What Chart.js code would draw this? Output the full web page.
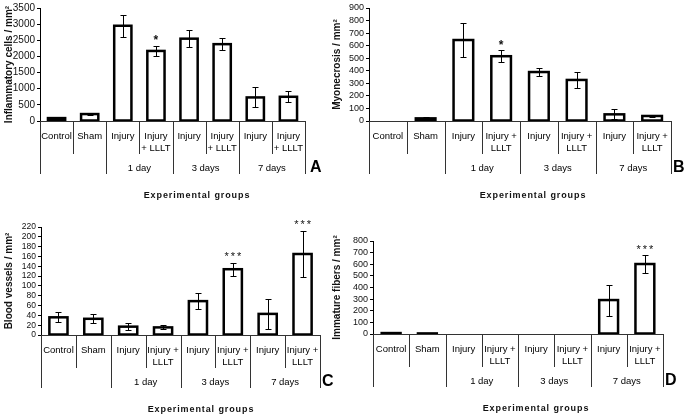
<!DOCTYPE html>
<html>
<head>
<meta charset="utf-8">
<script src="https://cdn.jsdelivr.net/npm/chart.js@4/dist/chart.umd.min.js"></script>
<style>
  html, body { margin: 0; padding: 0; background: #fff; }
  #wrap { position: relative; width: 685px; height: 417px; overflow: hidden; }
  .panel { position: absolute; }
</style>
</head>
<body>
<div id="wrap">
  <div class="panel" style="left:0;top:0;width:340px;height:205px"><canvas id="chartA"></canvas></div>
  <div class="panel" style="left:328px;top:0;width:357px;height:205px"><canvas id="chartB"></canvas></div>
  <div class="panel" style="left:0;top:205px;width:340px;height:212px"><canvas id="chartC"></canvas></div>
  <div class="panel" style="left:328px;top:205px;width:357px;height:212px"><canvas id="chartD"></canvas></div>
</div>
<script>
// category labels (one entry per bar, each a list of text lines)
const categoriesA = [['Control'], ['Sham'], ['Injury'], ['Injury', '+ LLLT'], ['Injury'], ['Injury', '+ LLLT'], ['Injury'], ['Injury', '+ LLLT']];
const categoriesBCD = [['Control'], ['Sham'], ['Injury'], ['Injury +', 'LLLT'], ['Injury'], ['Injury +', 'LLLT'], ['Injury'], ['Injury +', 'LLLT']];
const groupLabels = ['', '1 day', '3 days', '7 days'];

// A - inflammatory cells
const inflammatory = [90, 215, 2950, 2170, 2550, 2380, 730, 750];
const inflammatoryErr = [15, 35, 340, 165, 270, 190, 310, 170];
const inflammatoryStars = ['', '', '', '*', '', '', '', ''];

// B - myonecrosis
const myonecrosis = [0, 21, 645, 516, 390, 327, 53, 40];
const myonecrosisErr = [0, 13, 133, 49, 31, 66, 41, 8];
const myonecrosisStars = ['', '', '', '*', '', '', '', ''];

// C - blood vessels
const bloodVessels = [36, 33, 17, 15.5, 69, 134, 43, 165];
const bloodVesselsErr = [10, 9, 7, 4, 16, 13.5, 30, 47];
const bloodVesselsStars = ['', '', '', '', '', '***', '', '***'];

// D - immature fibers
const immatureFibers = [8, 5, 0, 0, 0, 0, 292, 602];
const immatureFibersErr = [0, 0, 0, 0, 0, 0, 133, 76];
const immatureFibersStars = ['', '', '', '', '', '', '', '***'];

const FONT = '"Liberation Sans", Arial, sans-serif';

const panelPlugin = {
  id: 'panel',
  afterDatasetsDraw(chart) {
    // Excel style outline: stroke centred on the bar edges
    const { ctx } = chart;
    const meta = chart.getDatasetMeta(0);
    ctx.save();
    ctx.strokeStyle = '#000';
    ctx.lineWidth = 2.5;
    meta.data.forEach((bar, i) => {
      if (!chart.data.datasets[0].data[i]) return;
      const p = bar.getProps(['x', 'y', 'base', 'width'], true);
      ctx.strokeRect(p.x - p.width / 2, p.y, p.width, p.base - p.y);
    });
    ctx.restore();
  },
  afterDraw(chart, args, opts) {
    const { ctx, chartArea: a } = chart;
    const y = chart.scales.y;
    const meta = chart.getDatasetMeta(0);
    const n = opts.cats.length;
    const w = (a.right - a.left) / n;
    ctx.save();

    // error bars
    ctx.strokeStyle = '#000';
    ctx.lineWidth = 1;
    opts.errs.forEach((e, i) => {
      if (!e) return;
      const v = opts.values[i];
      const cx = Math.round(meta.data[i].x) + 0.5;
      const top = Math.round(y.getPixelForValue(v + e)) + 0.5;
      const bot = Math.round(y.getPixelForValue(Math.max(0, v - e))) + 0.5;
      ctx.beginPath();
      ctx.moveTo(cx, top); ctx.lineTo(cx, bot);
      ctx.moveTo(cx - 3, top); ctx.lineTo(cx + 3, top);
      ctx.moveTo(cx - 3, bot); ctx.lineTo(cx + 3, bot);
      ctx.stroke();
    });

    // significance stars
    ctx.fillStyle = '#111';
    ctx.textAlign = 'center';
    ctx.textBaseline = 'alphabetic';
    opts.stars.forEach((s, i) => {
      if (!s) return;
      const v = opts.values[i] + opts.errs[i];
      const cx = meta.data[i].x;
      const top = y.getPixelForValue(v);
      if (s.length === 1) {
        ctx.font = 'bold 12px ' + FONT;
        ctx.letterSpacing = '0px';
        ctx.fillText(s, cx, top - 1.5);
      } else {
        ctx.font = '11px ' + FONT;
        ctx.letterSpacing = '2px';
        ctx.fillText(s, cx + 1, top - 2.5);
      }
    });
    ctx.letterSpacing = '0px';

    // category table
    ctx.strokeStyle = '#333';
    ctx.beginPath();
    ctx.moveTo(a.left, Math.round(a.bottom) + 0.5);
    ctx.lineTo(a.right, Math.round(a.bottom) + 0.5);
    for (let k = 0; k <= n; k++) {
      const lx = Math.round(a.left + k * w) + 0.5;
      ctx.moveTo(lx, a.bottom);
      ctx.lineTo(lx, a.bottom + (k % 2 === 0 ? 53 : 33));
    }
    ctx.stroke();

    ctx.font = '9.5px ' + FONT;
    ctx.fillStyle = '#000';
    ctx.textBaseline = 'middle';
    opts.cats.forEach((lines, i) => {
      const cx = a.left + (i + 0.5) * w;
      lines.forEach((t, j) => ctx.fillText(t, cx, a.bottom + 15 + 12.5 * j));
    });
    groupLabels.forEach((g, j) => {
      if (g) ctx.fillText(g, a.left + (2 * j + 1) * w, a.bottom + 47);
    });

    // panel letter
    ctx.font = 'bold 16px ' + FONT;
    ctx.textAlign = 'left';
    ctx.fillStyle = '#000';
    ctx.fillText(opts.letter, a.right + opts.letterDx, a.bottom + 47);

    // x axis title
    ctx.font = 'bold 9px ' + FONT;
    ctx.letterSpacing = '0.9px';
    ctx.textAlign = 'center';
    ctx.fillStyle = '#111';
    ctx.fillText('Experimental groups', opts.titleX, a.bottom + 75);
    ctx.restore();
  }
};

function makeChart(id, cats, values, errs, stars, yTitle, yMax, yStep, letter, box) {
  return new Chart(document.getElementById(id), {
    type: 'bar',
    data: {
      labels: cats.map(c => c.join(' ')),
      datasets: [{
        data: values,
        backgroundColor: '#fff',
        borderWidth: 0,
        barPercentage: 0.52,
        categoryPercentage: 1
      }]
    },
    options: {
      responsive: true,
      maintainAspectRatio: false,
      animation: false,
      layout: { padding: { top: box.top, right: box.right, bottom: box.bottom, left: 0 } },
      plugins: {
        legend: { display: false },
        tooltip: { enabled: false },
        panel: { cats, values, errs, stars, letter, letterDx: box.letterDx, titleX: box.titleX }
      },
      scales: {
        x: { display: false },
        y: {
          min: 0,
          max: yMax,
          afterFit: s => { s.width = box.left; },
          ticks: {
            stepSize: yStep,
            autoSkip: false,
            color: '#111',
            font: { family: FONT, size: box.tickSize },
            padding: 2,
            callback: v => String(v)
          },
          grid: { drawOnChartArea: false, tickLength: 3, color: '#000' },
          border: { color: '#000', width: 1 },
          title: {
            display: true,
            text: yTitle,
            color: '#111',
            font: { family: FONT, size: 10, weight: 'bold' },
            padding: { top: 3, bottom: 0 }
          }
        }
      }
    },
    plugins: [panelPlugin]
  });
}

makeChart('chartA', categoriesA, inflammatory, inflammatoryErr, inflammatoryStars,
  'Inflammatory cells / mm²', 3500, 500, 'A',
  { left: 40, top: 8, right: 340 - 305, bottom: 205 - 121, titleX: 197, letterDx: 5, tickSize: 10 });
makeChart('chartB', categoriesBCD, myonecrosis, myonecrosisErr, myonecrosisStars,
  'Myonecrosis / mm²', 900, 100, 'B',
  { left: 41, top: 8, right: 357 - 343, bottom: 205 - 121, titleX: 205, letterDx: 2, tickSize: 9 });
makeChart('chartC', categoriesBCD, bloodVessels, bloodVesselsErr, bloodVesselsStars,
  'Blood vessels / mm²', 220, 20, 'C',
  { left: 41, top: 22, right: 340 - 320, bottom: 212 - 130, titleX: 201, letterDx: 2, tickSize: 8.5 });
makeChart('chartD', categoriesBCD, immatureFibers, immatureFibersErr, immatureFibersStars,
  'Immature fibers / mm²', 800, 100, 'D',
  { left: 45, top: 36, right: 357 - 335, bottom: 212 - 129, titleX: 208, letterDx: 2, tickSize: 9 });
</script>
</body>
</html>
